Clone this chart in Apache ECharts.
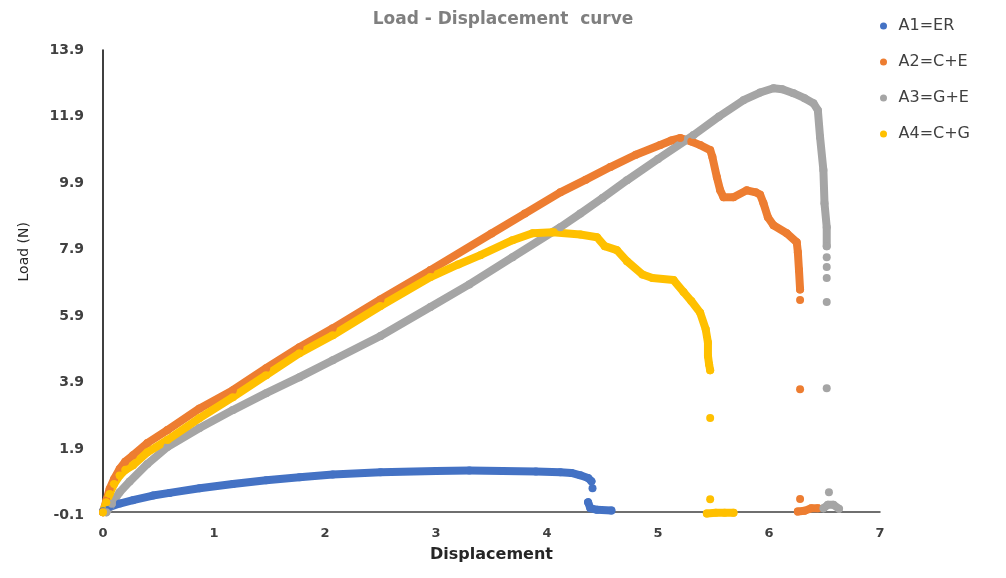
<!DOCTYPE html>
<html><head><meta charset="utf-8">
<script src="https://cdn.jsdelivr.net/npm/echarts@6/dist/echarts.min.js"></script>
<style>html,body{margin:0;padding:0;background:#fff}#c{width:1006px;height:578px}</style>
</head><body><div id="c"></div>
<script>
const chartTitle = 'Load - Displacement  curve';
const seriesNames = ['A1=ER', 'A2=C+E', 'A3=G+E', 'A4=C+G'];
const yTickValues = [-0.1, 1.9, 3.9, 5.9, 7.9, 9.9, 11.9, 13.9];
const xTickValues = [0, 1, 2, 3, 4, 5, 6, 7];

// [displacement, load]; null = gap between separate dots
const a1 = [[0,0.03],[0.06,0.16],[0.15,0.26],[0.27,0.36],[0.45,0.5],[0.6,0.58],[0.87,0.72],[1.17,0.85],[1.47,0.96],[1.77,1.05],[2.07,1.13],[2.5,1.2],[3.0,1.24],[3.3,1.25],[3.6,1.24],[3.9,1.22],[4.12,1.2],[4.22,1.18],[4.3,1.11],[4.37,1.03],[4.4,0.93],null,[4.41,0.72],null,[4.37,0.3],[4.39,0.12],[4.45,0.07],[4.58,0.05]];
const a2 = [[0,0],[0.03,0.35],[0.06,0.7],[0.1,1.0],[0.15,1.3],[0.2,1.52],[0.27,1.71],[0.4,2.08],[0.58,2.47],[0.87,3.12],[1.17,3.67],[1.47,4.33],[1.77,4.96],[2.07,5.53],[2.5,6.4],[2.95,7.28],[3.5,8.38],[3.8,8.98],[4.12,9.62],[4.35,10.0],[4.57,10.38],[4.8,10.75],[5.02,11.04],[5.12,11.18],[5.2,11.25],[5.3,11.15],[5.38,11.04],[5.47,10.89],[5.49,10.68],[5.53,10.08],[5.56,9.68],[5.59,9.47],[5.68,9.47],[5.8,9.68],[5.88,9.62],[5.92,9.55],[5.95,9.29],[5.99,8.87],[6.04,8.63],[6.16,8.39],[6.25,8.12],[6.26,7.82],[6.27,7.28],[6.28,6.7],null,[6.28,6.38],null,[6.28,3.7],null,[6.28,0.4],null,[6.26,0.02],[6.32,0.04],[6.38,0.12],[6.44,0.12]];
const a3 = [[0.03,0],[0.08,0.25],[0.15,0.6],[0.24,0.92],[0.4,1.45],[0.58,1.96],[0.87,2.53],[1.17,3.07],[1.47,3.58],[1.77,4.06],[2.07,4.57],[2.5,5.3],[2.95,6.17],[3.3,6.85],[3.69,7.67],[4.12,8.57],[4.3,8.98],[4.5,9.45],[4.72,9.98],[5.0,10.62],[5.32,11.34],[5.55,11.9],[5.77,12.39],[5.92,12.62],[6.04,12.75],[6.12,12.72],[6.22,12.6],[6.32,12.45],[6.4,12.3],[6.44,12.09],[6.46,11.28],[6.49,10.29],[6.5,9.29],[6.52,8.57],[6.52,8.0],null,[6.52,7.67],null,[6.52,7.37],null,[6.52,7.04],null,[6.52,6.32],null,[6.52,3.73],null,[6.54,0.6],null,[6.49,0.12],[6.53,0.22],[6.58,0.22],[6.63,0.1]];
const a4 = [[0,0],[0.03,0.3],[0.06,0.55],[0.1,0.85],[0.15,1.1],[0.2,1.27],[0.27,1.41],[0.4,1.8],[0.58,2.17],[0.87,2.83],[1.17,3.46],[1.47,4.12],[1.77,4.78],[2.07,5.32],[2.5,6.2],[2.95,7.07],[3.2,7.45],[3.4,7.73],[3.69,8.18],[3.87,8.39],[4.05,8.42],[4.3,8.35],[4.45,8.27],[4.52,8.0],[4.63,7.88],[4.72,7.55],[4.86,7.15],[4.95,7.04],[5.14,6.98],[5.23,6.62],[5.3,6.35],[5.38,6.0],[5.43,5.5],[5.45,5.1],[5.45,4.7],[5.46,4.45],[5.47,4.27],null,[5.47,2.83],null,[5.47,0.39],null,[5.44,-0.04],[5.52,-0.02],[5.6,-0.02],[5.68,-0.02]];

const FONT = 'DejaVu Sans';
const toData = arr => arr.map(p => p === null ? ['-', '-'] : p);
const colors = ['#4472C4', '#ED7D31', '#A5A5A5', '#FFC000'];
const allData = [a1, a2, a3, a4];

const chart = echarts.init(document.getElementById('c'), null, {renderer: 'canvas'});
chart.setOption({
  animation: false,
  backgroundColor: '#fff',
  title: {
    text: chartTitle,
    left: 'center',
    top: 6,
    padding: [5, 0, 5, 20],
    textStyle: {fontFamily: FONT, fontSize: 17, fontWeight: 'bold', color: '#7f7f7f'}
  },
  legend: {
    orient: 'vertical',
    left: 875,
    top: 13,
    icon: 'circle',
    itemWidth: 20,
    itemHeight: 7,
    itemGap: 20,
    data: seriesNames,
    textStyle: {fontFamily: FONT, fontSize: 16, lineHeight: 16, color: '#404040'}
  },
  grid: {left: 103, right: 126, top: 50, bottom: 62.5, containLabel: false},
  xAxis: {
    type: 'value',
    min: xTickValues[0],
    max: xTickValues[xTickValues.length - 1],
    interval: 1,
    name: 'Displacement',
    nameLocation: 'middle',
    nameGap: 31,
    nameTextStyle: {fontFamily: FONT, fontSize: 16, fontWeight: 'bold', color: '#262626'},
    axisLine: {show: true, onZero: true, lineStyle: {color: '#404040', width: 1.5}},
    axisTick: {show: false},
    splitLine: {show: false},
    axisLabel: {margin: 12, fontFamily: FONT, fontSize: 13, fontWeight: 'bold', color: '#404040'}
  },
  yAxis: {
    type: 'value',
    min: yTickValues[0],
    max: yTickValues[yTickValues.length - 1],
    name: 'Load (N)',
    nameLocation: 'middle',
    nameGap: 72,
    nameTextStyle: {fontFamily: FONT, fontSize: 14, color: '#262626', padding: [0, 0, 0, 62]},
    axisLine: {show: true, lineStyle: {color: '#000', width: 1.5}},
    axisTick: {show: false},
    splitLine: {show: false},
    axisLabel: {
      customValues: yTickValues,
      formatter: v => Number(v).toFixed(1),
      margin: 19, fontFamily: FONT, fontSize: 14, fontWeight: 'bold', color: '#404040'
    }
  },
  series: allData.map((d, i) => ({
    name: seriesNames[i],
    type: 'line',
    data: toData(d),
    color: colors[i],
    symbol: 'circle',
    symbolSize: 8,
    showSymbol: true,
    showAllSymbol: true,
    connectNulls: false,
    lineStyle: {width: 8, cap: 'round', join: 'round', color: colors[i]},
    itemStyle: {color: colors[i]},
    emphasis: {disabled: true}
  }))
});
</script></body></html>
